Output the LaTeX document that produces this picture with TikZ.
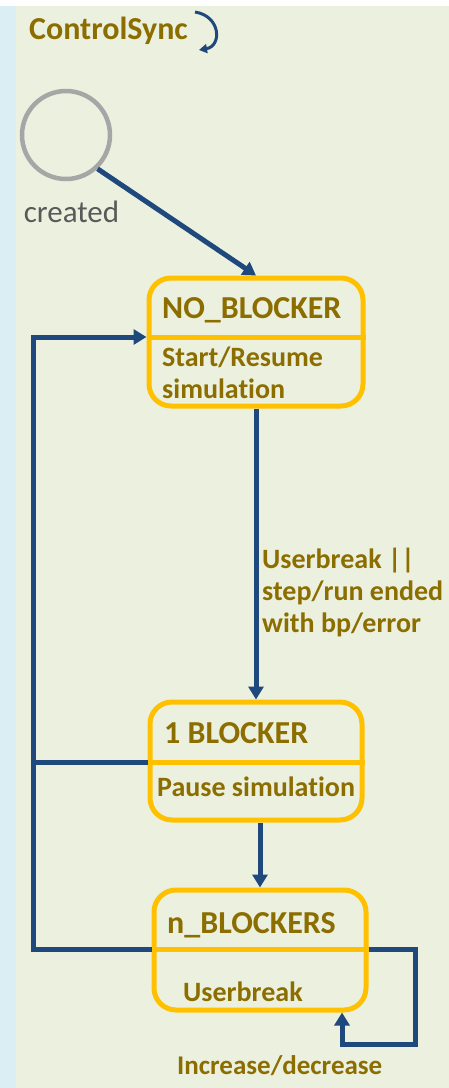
\documentclass[tikz,border=0pt]{standalone}
\usepackage{fontspec}
\setmainfont{Carlito}[Ligatures=NoCommon]
\usetikzlibrary{arrows.meta}
\definecolor{olivebg}{RGB}{235,241,222}
\definecolor{aquabg}{RGB}{218,238,243}
\definecolor{darkgold}{RGB}{140,109,0}
\definecolor{navy}{RGB}{31,73,125}
\definecolor{amber}{RGB}{255,192,0}
\definecolor{ringgray}{RGB}{166,166,166}
\definecolor{textgray}{RGB}{89,89,89}

\begin{document}
\begin{tikzpicture}[x=1pt,y=-1pt,
 statebox/.style={draw=amber,line width=5pt,rounded corners=22pt,inner sep=0pt},
 divider/.style={amber,line width=5pt},
 lbl/.style={anchor=base west,inner sep=0pt,text=darkgold,align=left,font=\bfseries\fontsize{28}{32}\selectfont},
 head/.style={lbl,font=\bfseries\fontsize{32}{38}\selectfont},
 conn/.style={draw=navy,line width=5pt},
 tip/.style={-{Triangle[length=13pt,width=15pt]}}]
 \useasboundingbox (0,0) rectangle (449,1088);
 \fill[white] (0,0) rectangle (449,1088);
 \fill[aquabg] (0,6) rectangle (16,1088);
 \fill[olivebg] (16,6) rectangle (449,1088);

 \node[head] (title) at (29,39) {ControlSync};
 \draw[navy,line width=3pt,-{Triangle[length=8pt,width=9pt]}] (195,12) .. controls (221,16) and (222,46) .. (199,50);

 \node[circle,draw=ringgray,line width=4.5pt,minimum size=88pt,inner sep=0pt] (start) at (66,135) {};
 \node[anchor=base,inner sep=0pt,text=textgray,font=\fontsize{31}{36}\selectfont] (startlbl) at (71.5,222) {created};
 %%%%%%%%%%%%%%%%%%%%%%%%%%%%%%%%%%%
 \node[statebox,minimum width=214pt,minimum height=128pt] (nob) at (256,342) {};
 \coordinate (nobdiv) at (256,337);
 \draw[divider] (nob.west |- nobdiv) -- (nob.east |- nobdiv);
 \node[head] (nobhead) at (162,318) {NO\_BLOCKER};
 \node[lbl] (nobtxt) at (162,398) {Start/Resume\\simulation};

 \node[statebox,minimum width=212pt,minimum height=118pt] (one) at (256,761) {};
 \coordinate (onediv) at (256,762);
 \draw[divider] (one.west |- onediv) -- (one.east |- onediv);
 \node[head] (onehead) at (164,743) {1 BLOCKER};
 \node[lbl] (onetxt) at (157,796) {Pause simulation};

 \node[statebox,minimum width=212pt,minimum height=120pt] (nbl) at (260,950) {};
 \coordinate (nbldiv) at (260,949);
 \draw[divider] (nbl.west |- nbldiv) -- (nbl.east |- nbldiv);
 \node[head] (nblhead) at (167,933) {n\_BLOCKERS};
 \node[lbl] (nbltxt) at (183,1001) {Userbreak};
 %%%%%%%%%%%%%%%%%%%%%%%%%%%%%%%%%%%
 \coordinate (bus) at (33.5,949);
 \coordinate (selfR) at (415,1044);
 \coordinate (selfin) at (342,0);
 \draw[conn,tip] (start.-47) -- (nob.north);
 \draw[conn,tip] (nob.south) -- (one.north);
 \node[lbl] (trig) at (262,632) {Userbreak ||\\step/run ended\\with bp/error};
 \draw[conn,tip] (nbl.north |- one.south) -- (nbl.north);
 \draw[conn,tip] (nbl.west |- nbldiv) -- (bus) |- (nob.west |- nobdiv);
 \draw[conn] (one.west |- onediv) -- (bus |- onediv);
 \draw[conn,tip] (nbl.east |- nbldiv) -| (selfR) -| (nbl.south -| selfin);
 \node[lbl,font=\bfseries\fontsize{27}{32}\selectfont] (selflbl) at (177,1074) {Increase/decrease};
\end{tikzpicture}
\end{document}
